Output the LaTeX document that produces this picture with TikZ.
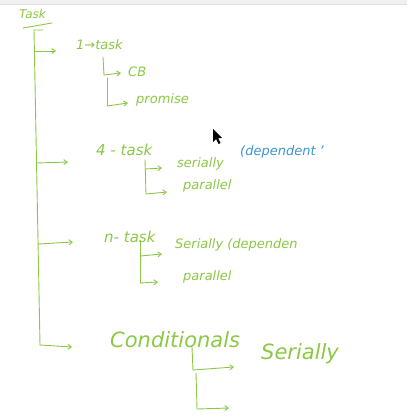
\documentclass[tikz,border=0pt]{standalone}
\usepackage{fontspec}
\setmainfont{DejaVu Sans}
\usetikzlibrary{arrows.meta}
\definecolor{pen}{RGB}{140,200,70}
\definecolor{bluepen}{RGB}{60,150,210}
\tikzset{
  ink/.style={draw=pen, line width=0.9pt, line cap=round, line join=round},
  arr/.style={ink, -{Straight Barb[length=3.5pt,width=5pt]}},
  hand/.style={text=pen, font=\fontsize{13}{14}\selectfont\itshape, inner sep=0pt, anchor=west},
}
\begin{document}
\begin{tikzpicture}[x=1pt,y=-1pt]
\useasboundingbox (0,0) rectangle (407,417);
\fill[white] (0,0) rectangle (407,417);
\fill[black!6] (0,0) rectangle (407,4);
\draw[black!12] (0,4.5) -- (407,4.5);
% texts
\node[hand, font=\fontsize{12}{12}\selectfont\itshape] (task) at (19,14) {Task};
\node[hand] (one) at (76,45) {1→task};
\node[hand] (cb) at (128,72) {CB};
\node[hand] (prom) at (136,100) {promise};
\node[hand, font=\fontsize{15}{16}\selectfont\itshape] (four) at (96,150) {4 - task};
\node[hand] (s1) at (177,164) {serially};
\node[hand, text=bluepen] (dep1) at (240,152) {(dependent '};
\node[hand] (p1) at (183,186) {parallel};
\node[hand, font=\fontsize{15}{16}\selectfont\itshape] (ntask) at (104,237) {n- task};
\node[hand] (s2) at (175,245) {Serially (dependen};
\node[hand] (p2) at (183,277) {parallel};
\node[hand, font=\fontsize{21}{22}\selectfont\itshape] (cond) at (110,340) {Conditionals};
\node[hand, font=\fontsize{21}{22}\selectfont\itshape] (s3) at (261,354) {Serially};
% underline of Task
\coordinate (ul1) at (23,28);
\coordinate (ul2) at (52,23);
\draw[ink] (ul1) -- (ul2);
% main trunk
\coordinate (t0) at (43,30);
\coordinate (t1) at (34,30);
\coordinate (b1) at (35,51);
\coordinate (b2) at (37,163);
\coordinate (b3) at (38,244);
\coordinate (tb) at (40,345);
\coordinate (a1) at (56,51);
\coordinate (a2) at (68,162);
\coordinate (a3) at (73,242);
\coordinate (a4) at (72,347);
\draw[ink] (t0) -- (t1) -- (tb);
\draw[arr] (b1) -- (a1);
\draw[arr] (b2) -- (a2);
\draw[arr] (b3) -- (a3);
\draw[arr] (tb) -- (a4);
% 1-task branch
\coordinate (u0) at (103,57);
\coordinate (u1) at (104,75);
\coordinate (u2) at (107,78);
\coordinate (u3) at (107,106);
\coordinate (ua1) at (121,73);
\coordinate (ua2) at (128,103);
\draw[ink] (u0) -- (u1);
\draw[arr] (u1) -- (ua1);
\draw[ink] (u2) -- (u3);
\draw[arr] (u3) -- (ua2);
% 4-task branch
\coordinate (v0) at (145,160);
\coordinate (v1) at (145,169);
\coordinate (v2) at (146,194);
\coordinate (va1) at (162,168);
\coordinate (va2) at (167,192);
\draw[ink] (v0) -- (v2);
\draw[arr] (v1) -- (va1);
\draw[arr] (v2) -- (va2);
% n-task branch
\coordinate (w0) at (140,240);
\coordinate (w1) at (140,256);
\coordinate (w2) at (140,283);
\coordinate (wa1) at (162,254);
\coordinate (wa2) at (158,282);
\draw[ink] (w0) -- (w2);
\draw[arr] (w1) -- (wa1);
\draw[arr] (w2) -- (wa2);
% conditionals branch
\coordinate (c0) at (192,347);
\coordinate (c1) at (193,370);
\coordinate (c2) at (196,373);
\coordinate (c3) at (197,409);
\coordinate (ca1) at (234,367);
\coordinate (ca2) at (229,408);
\draw[ink] (c0) -- (c1);
\draw[arr] (c1) -- (ca1);
\draw[ink] (c2) -- (c3);
\draw[arr] (c3) -- (ca2);
% mouse cursor
\coordinate (m0) at (213,129);
\fill[black] (m0) -- ++(0,13) -- ++(3,-3) -- ++(2.5,5) -- ++(2,-1) -- ++(-2.5,-5) -- ++(4,0) -- cycle;
\end{tikzpicture}
\end{document}
